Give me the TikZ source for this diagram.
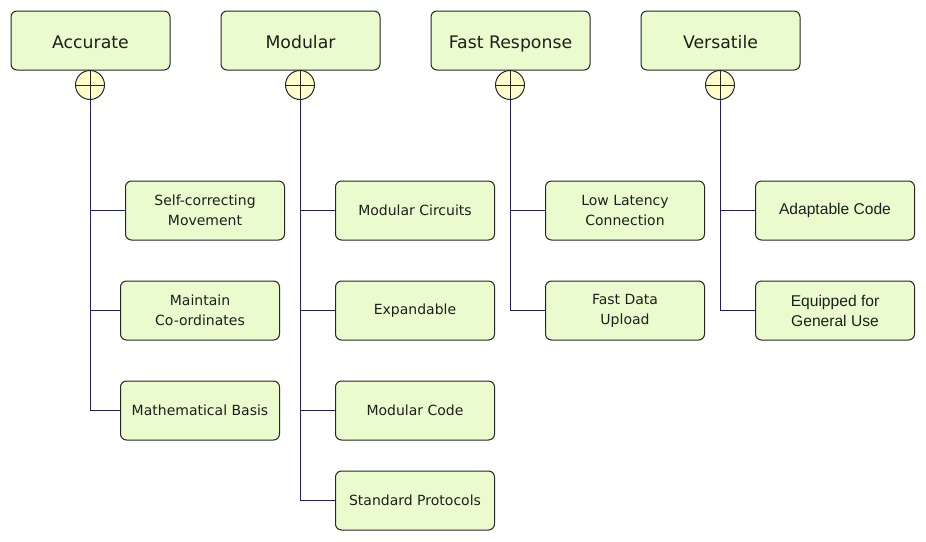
\documentclass[tikz,border=0pt]{standalone}
\usepackage{fontspec}
\setmainfont{DejaVu Sans}
\newfontfamily\arialf{Liberation Sans}
\definecolor{boxfill}{RGB}{234,252,206}
\definecolor{circfill}{RGB}{255,255,204}
\definecolor{linknavy}{RGB}{30,30,120}
\definecolor{txt}{RGB}{30,30,30}
\tikzset{
  header/.style={draw=black!85, fill=boxfill, rounded corners=6pt, minimum width=159pt, minimum height=59pt, inner sep=0pt, text=txt, font={\fontsize{17.3}{20}\selectfont}, line width=1pt, text height=15pt, text depth=0pt},
  child/.style={draw=black!85, fill=boxfill, rounded corners=6pt, minimum width=159pt, minimum height=59pt, inner sep=0pt, text=txt, align=center, font={\fontsize{14}{20}\selectfont}, line width=1pt},
  achild/.style={child, font={\arialf\fontsize{15.6}{20}\selectfont}},
  junction/.style={draw=black!85, fill=circfill, circle, minimum size=29pt, inner sep=0pt, line width=1pt},
  link/.style={draw=linknavy, line width=0.8pt}
}
\newcommand{\cross}[1]{\draw[black!85, line width=0.8pt] (#1.north) -- (#1.south) (#1.west) -- (#1.east);}
\begin{document}
\begin{tikzpicture}[x=1pt,y=-1pt]
\useasboundingbox (0,0) rectangle (926,541);
% headers
\node[header] (h1) at (90.5,40.5) {Accurate};
\node[header] (h2) at (300.5,40.5) {Modular};
\node[header] (h3) at (510.5,40.5) {Fast Response};
\node[header] (h4) at (720.5,40.5) {Versatile};
% junctions
\node[junction] (j1) at (90,85) {};
\node[junction] (j2) at (300,85) {};
\node[junction] (j3) at (510,85) {};
\node[junction] (j4) at (720,85) {};
% children
\node[child] (a1) at (205,210.5) {Self-correcting\\Movement};
\node[child] (a2) at (200,310.5) {Maintain\\Co-ordinates};
\node[child] (a3) at (200,410.5) {Mathematical Basis};
\node[child] (m1) at (415,210.5) {Modular Circuits};
\node[child] (m2) at (415,310.5) {Expandable};
\node[child] (m3) at (415,410.5) {Modular Code};
\node[child] (m4) at (415,500.5) {Standard Protocols};
\node[child] (f1) at (625,210.5) {Low Latency\\Connection};
\node[child] (f2) at (625,310.5) {Fast Data\\Upload};
\node[achild] (v1) at (835,210.5) {Adaptable Code};
\node[achild] (v2) at (835,310.5) {Equipped for\\General Use};
% links
\foreach \j/\c in {j1/a1,j1/a2,j1/a3,j2/m1,j2/m2,j2/m3,j2/m4,j3/f1,j3/f2,j4/v1,j4/v2}
  \draw[link] (\j.south) |- (\c.west);
% crosses
\cross{j1}\cross{j2}\cross{j3}\cross{j4}
\end{tikzpicture}
\end{document}
